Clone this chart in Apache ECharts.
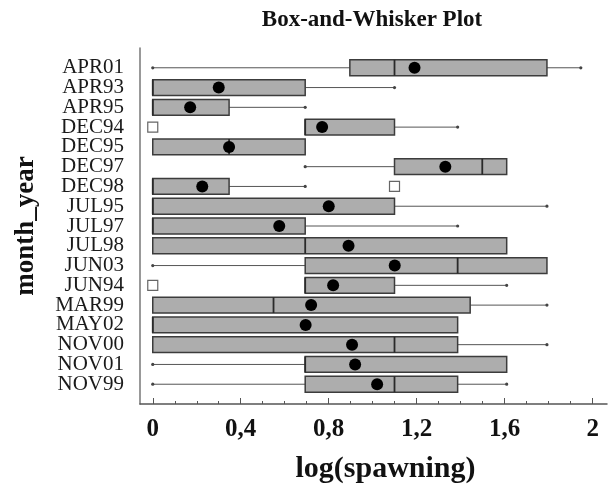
<!DOCTYPE html>
<html>
<head>
<meta charset="utf-8">
<script src="https://cdn.jsdelivr.net/npm/echarts@6/dist/echarts.min.js"></script>
<style>
  html, body { margin: 0; padding: 0; background: #fff; }
  #chart { width: 609px; height: 485px; }
</style>
</head>
<body>
<div id="chart"></div>
<script>
// Monthly spawning samples, log scale
const categories = ['APR01', 'APR93', 'APR95', 'DEC94', 'DEC95', 'DEC97', 'DEC98', 'JUL95',
  'JUL97', 'JUL98', 'JUN03', 'JUN94', 'MAR99', 'MAY02', 'NOV00', 'NOV01', 'NOV99'];

// five-number summaries: [min, q1, median, q3, max]
const summaries = [
  [0, 0.896, 1.099, 1.792, 1.946],
  [0, 0, 0, 0.693, 1.099],
  [0, 0, 0, 0.347, 0.693],
  [0.693, 0.693, 0.693, 1.099, 1.386],
  [0, 0, 0.347, 0.693, 0.693],
  [0.693, 1.099, 1.498, 1.609, 1.609],
  [0, 0, 0, 0.347, 0.693],
  [0, 0, 0, 1.099, 1.792],
  [0, 0, 0, 0.693, 1.386],
  [0, 0, 0.693, 1.609, 1.609],
  [0, 0.693, 1.386, 1.792, 1.792],
  [0.693, 0.693, 0.693, 1.099, 1.609],
  [0, 0, 0.549, 1.443, 1.792],
  [0, 0, 0, 1.386, 1.386],
  [0, 0, 1.099, 1.386, 1.792],
  [0, 0.693, 0.693, 1.609, 1.609],
  [0, 0.693, 1.099, 1.386, 1.609]
];

const means = [1.19, 0.30, 0.17, 0.77, 0.347, 1.33, 0.225, 0.80, 0.575, 0.89,
  1.10, 0.82, 0.72, 0.695, 0.906, 0.92, 1.02];

// outliers: [category, value]
const outliers = [['DEC94', 0], ['DEC98', 1.099], ['JUN94', 0]];

const labelTicks = [0, 0.4, 0.8, 1.2, 1.6, 2];
const minorTicks = [0, 0.1, 0.2, 0.3, 0.4, 0.5, 0.6, 0.7, 0.8, 0.9, 1.0,
  1.1, 1.2, 1.3, 1.4, 1.5, 1.6, 1.7, 1.8, 1.9, 2.0];

const serif = '"Liberation Serif", "Times New Roman", serif';
const xMin = -0.058, xMax = 2.065;

const boxData = summaries.map((s, i) => [i].concat(s));
const meanData = means.map((m, i) => [m, i]);
const outlierData = outliers.map(o => [o[1], categories.indexOf(o[0])]);

function renderBox(params, api) {
  const idx = api.value(0);
  const mn = api.value(1), q1 = api.value(2), med = api.value(3), q3 = api.value(4), mx = api.value(5);
  const band = api.size([0, 1])[1];
  const h = band * 0.8;
  const pMin = api.coord([mn, idx]);
  const pQ1 = api.coord([q1, idx]);
  const pMed = api.coord([med, idx]);
  const pQ3 = api.coord([q3, idx]);
  const pMax = api.coord([mx, idx]);
  const y = pQ1[1];
  const whiskerStyle = { stroke: '#555', lineWidth: 1 };
  const dotStyle = { fill: '#444' };
  const children = [];
  if (mn < q1) {
    children.push({ type: 'line', shape: { x1: pMin[0], y1: y, x2: pQ1[0], y2: y }, style: whiskerStyle });
    children.push({ type: 'circle', shape: { cx: pMin[0], cy: y, r: 1.6 }, style: dotStyle });
  }
  if (mx > q3) {
    children.push({ type: 'line', shape: { x1: pQ3[0], y1: y, x2: pMax[0], y2: y }, style: whiskerStyle });
    children.push({ type: 'circle', shape: { cx: pMax[0], cy: y, r: 1.6 }, style: dotStyle });
  }
  children.push({
    type: 'rect',
    shape: { x: pQ1[0], y: y - h / 2, width: pQ3[0] - pQ1[0], height: h },
    style: { fill: '#adadad', stroke: '#3c3c3c', lineWidth: 1.5 }
  });
  children.push({
    type: 'line',
    shape: { x1: pMed[0], y1: y - h / 2, x2: pMed[0], y2: y + h / 2 },
    style: { stroke: '#2a2a2a', lineWidth: 1.8 }
  });
  return { type: 'group', children };
}

const chart = echarts.init(document.getElementById('chart'), null, { renderer: 'canvas' });
chart.setOption({
  animation: false,
  backgroundColor: '#fff',
  title: {
    text: 'Box-and-Whisker Plot',
    left: 367,
    top: 4,
    textAlign: 'center',
    textStyle: { fontFamily: serif, fontWeight: 'bold', fontSize: 23, color: '#111' }
  },
  grid: { left: 140, right: 2, top: 48, bottom: 81, outerBoundsMode: 'none', containLabel: false },
  xAxis: [{
    type: 'value',
    min: xMin,
    max: xMax,
    name: 'log(spawning)',
    nameLocation: 'middle',
    nameGap: 50,
    nameTextStyle: { fontFamily: serif, fontWeight: 'bold', fontSize: 30, color: '#111', padding: [0, 0, 0, 24] },
    axisLine: { show: true, onZero: false, lineStyle: { color: '#555', width: 1.5 } },
    axisTick: { show: true, inside: true, length: 3, customValues: minorTicks, lineStyle: { color: '#555' } },
    axisLabel: {
      customValues: labelTicks,
      margin: 13,
      fontFamily: serif, fontWeight: 'bold', fontSize: 25, color: '#111',
      formatter: v => String(v).replace('.', ',')
    },
    splitLine: { show: false }
  }, {
    type: 'value',
    min: xMin,
    max: xMax,
    position: 'bottom',
    axisLine: { show: false, onZero: false },
    axisTick: { show: true, inside: true, length: 6, customValues: labelTicks, lineStyle: { color: '#555' } },
    axisLabel: { show: false },
    splitLine: { show: false }
  }],
  yAxis: {
    type: 'value',
    inverse: true,
    min: -1,
    max: 17,
    interval: 1,
    name: 'month_year',
    nameLocation: 'middle',
    nameRotate: 90,
    nameGap: 100,
    nameTextStyle: { fontFamily: serif, fontWeight: 'bold', fontSize: 27, color: '#111' },
    axisLine: { show: true, onZero: false, lineStyle: { color: '#777', width: 1.5 } },
    axisTick: { show: false },
    splitLine: { show: false },
    axisLabel: {
      margin: 16,
      fontFamily: serif, fontSize: 21, color: '#1a1a1a',
      formatter: v => (v >= 0 && v < categories.length && Number.isInteger(v)) ? categories[v] : ''
    }
  },
  series: [{
    type: 'custom',
    renderItem: renderBox,
    data: boxData,
    encode: { x: [1, 2, 3, 4, 5], y: 0 },
    clip: false,
    z: 2
  }, {
    type: 'scatter',
    data: meanData,
    symbol: 'circle',
    symbolSize: 12,
    itemStyle: { color: '#000', opacity: 1 },
    z: 4
  }, {
    type: 'scatter',
    data: outlierData,
    symbol: 'rect',
    symbolSize: 10,
    itemStyle: { color: '#fff', borderColor: '#666', borderWidth: 1.2, opacity: 1 },
    z: 4
  }]
});
</script>
</body>
</html>
